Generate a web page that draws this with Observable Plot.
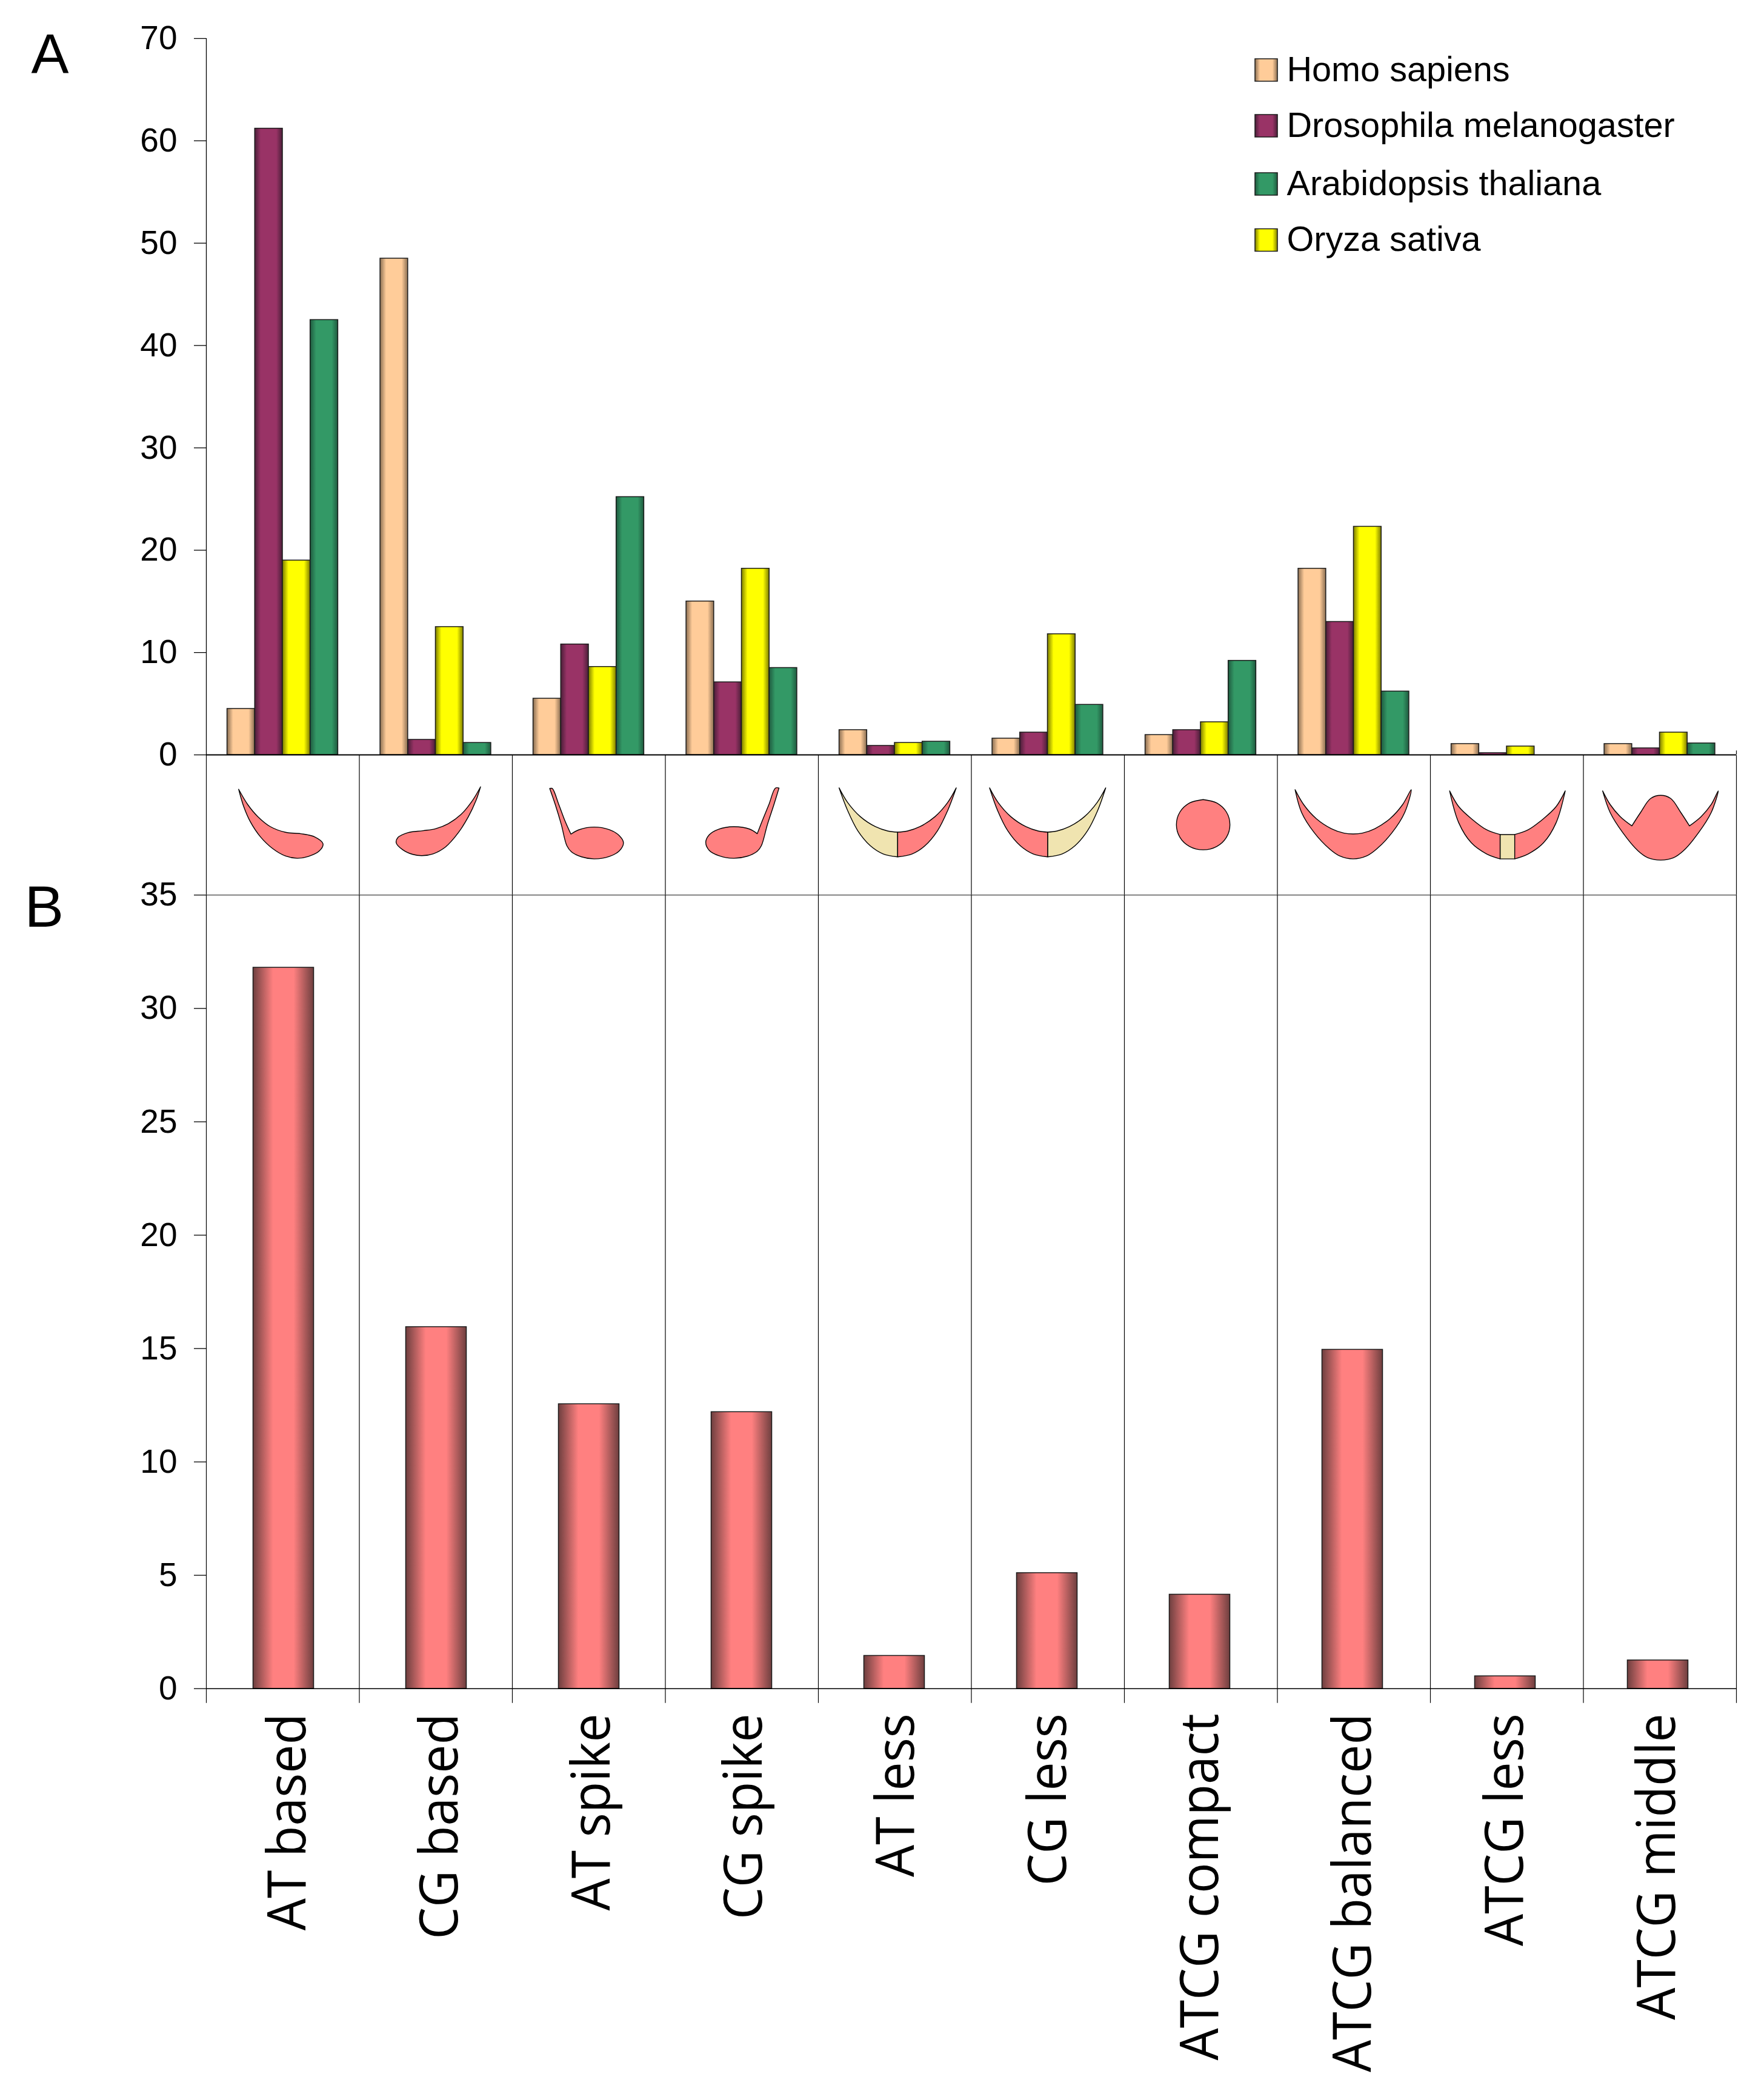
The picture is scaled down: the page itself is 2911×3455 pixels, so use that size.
<!DOCTYPE html>
<html>
<head>
<meta charset="utf-8">
<script src="https://cdn.jsdelivr.net/npm/d3@7"></script>
<script src="https://cdn.jsdelivr.net/npm/@observablehq/plot@0.6"></script>
<style>
  html, body { margin: 0; padding: 0; background: #fff; }
  #page { width: 2911px; height: 3455px; overflow: hidden; position: relative; }
  #page svg.plot-panel { display: block; max-width: none; }
</style>
</head>
<body>
<svg width="0" height="0" style="position:absolute"><defs id="grads"></defs></svg>
<div id="page"></div>
<script>
const categories = ["AT based","CG based","AT spike","CG spike","AT less","CG less","ATCG compact","ATCG balanced","ATCG less","ATCG middle"];
const species = ["Homo sapiens","Drosophila melanogaster","Oryza sativa","Arabidopsis thaliana"];
const legendOrder = ["Homo sapiens","Drosophila melanogaster","Arabidopsis thaliana","Oryza sativa"];
const homo    = [4.5, 48.5, 5.5, 15.0, 2.43, 1.6, 1.95, 18.2, 1.07, 1.07];
const dros    = [61.2, 1.48, 10.8, 7.1, 0.89, 2.19, 2.43, 13.0, 0.18, 0.65];
const oryza   = [19.0, 12.5, 8.6, 18.2, 1.18, 11.8, 3.2, 22.3, 0.83, 2.19];
const arab    = [42.5, 1.18, 25.2, 8.5, 1.30, 4.9, 9.2, 6.2, 0, 1.13];
const panelB  = [31.8, 15.95, 12.55, 12.2, 1.45, 5.1, 4.15, 14.95, 0.55, 1.25];
const ticksA  = [0,10,20,30,40,50,60,70];
const ticksB  = [0,5,10,15,20,25,30,35];

// Pictogram outlines, in units of the sketch strip
const iconRed = [
  [0,[[64,168],[82,244],[102,304],[127,354],[157,382],[187,389],[214,404],[231,439],[224,474],[202,502],[180,511],[157,500],[132,464],[107,404],[87,329],[74,254],[64,168]]],
  [1,[[240,156],[224,224],[201,294],[176,339],[151,364],[126,374],[96,384],[76,409],[73,434],[86,469],[106,492],[124,498],[146,489],[171,454],[196,384],[216,304],[231,224],[240,156]]],
  [2,[[74,164],[79,164],[92,244],[104,324],[116,391],[116,391],[132,369],[162,356],[192,369],[212,399],[220,434],[212,474],[192,502],[162,514],[137,504],[117,479],[108,449],[97,344],[85,244],[74,164]]],
  [3,[[225,162],[218,162],[205,244],[192,324],[182,389],[182,389],[167,366],[135,354],[105,367],[87,394],[80,432],[87,472],[107,499],[135,511],[162,501],[182,476],[190,449],[202,344],[215,244],[225,162]]],
  [4,[[273,161],[256,234],[231,304],[201,354],[176,376],[157,381],[157,381],[157,504],[157,504],[186,489],[211,449],[236,374],[256,274],[273,161]]],
  [5,[[36,161],[53,234],[78,304],[108,354],[133,376],[151,381],[151,381],[151,504],[151,504],[122,489],[97,449],[72,374],[52,274],[36,161]]],
  [6,[[156,219],[183,236],[202,281],[209,344],[202,407],[183,452],[156,469],[129,452],[110,407],[103,344],[110,281],[129,236],[156,219]]],
  [7,[[35,170],[52,244],[77,314],[107,364],[132,386],[150,390],[168,386],[193,364],[223,314],[248,244],[265,170],[252,284],[227,384],[197,464],[177,499],[150,514],[123,499],[103,464],[73,384],[48,284],[35,170]]],
  [8,[[38,176],[56,254],[81,314],[111,369],[138,393],[138,393],[138,514],[138,514],[111,489],[81,434],[56,334],[38,176]]],
  [8,[[267,176],[249,254],[224,314],[194,369],[167,393],[167,393],[167,514],[167,514],[194,489],[224,434],[249,334],[267,176]]],
  [9,[[38,176],[53,244],[73,304],[96,350],[96,350],[113,284],[133,214],[153,198],[173,214],[193,284],[210,350],[210,350],[233,304],[253,244],[267,176],[253,284],[228,384],[198,474],[178,509],[153,520],[128,509],[108,474],[78,384],[53,284],[38,176]]]
];
const iconCream = [
  [4,[[41,161],[58,234],[83,304],[113,354],[138,376],[157,381],[157,381],[157,504],[157,504],[128,489],[103,449],[78,374],[58,274],[41,161]]],
  [5,[[266,161],[249,234],[224,304],[194,354],[169,376],[151,381],[151,381],[151,504],[151,504],[180,489],[205,449],[230,374],[250,274],[266,161]]],
  [8,[[138,393],[138,393],[167,393],[167,393],[167,514],[167,514],[138,514],[138,514],[138,393]]]
];

const seriesValues = [homo, dros, oryza, arab];
const barColors = {
  "Homo sapiens": ["#FFCC99", "#8a6e52"],
  "Drosophila melanogaster": ["#993366", "#4a1f38"],
  "Oryza sativa": ["#FFFF00", "#7d7d00"],
  "Arabidopsis thaliana": ["#339966", "#1f5a3f"]
};
const gradId = s => "g" + species.indexOf(s);

// Gradients
const defs = d3.select("#grads");
function addGrad(id, [mid, edge], a, b) {
  const g = defs.append("linearGradient").attr("id", id).attr("x1", 0).attr("x2", 1).attr("y1", 0).attr("y2", 0);
  [[0, edge], [a, mid], [b, mid], [1, edge]].forEach(([o, c]) => g.append("stop").attr("offset", o).attr("stop-color", c));
}
species.forEach(s => addGrad(gradId(s), barColors[s], 0.22, 0.78));
addGrad("gB", ["#FF8080", "#6e3f3f"], 0.33, 0.67);

const width = 2911, marginLeft = 340, marginRight = 46;
const font = "Liberation Sans";
const base = {width, marginLeft, marginRight, x: {domain: [0, 10], axis: null}};
const panelStyle = {fontFamily: font, background: "transparent", overflow: "visible", color: "#000"};
const barShare = 0.181, groupOffset = 0.137;

const rowsA = categories.flatMap((c, i) => species.map((s, j) => ({cat: i, s: j, species: s, value: seriesValues[j][i]}))).filter(d => d.value > 0);
const rowsB = categories.map((c, i) => ({cat: i, value: panelB[i]}));
const toRows = parts => parts.flatMap(([cat, pts], id) => pts.map(p => ({id, x: cat + p[0] / 303, y: p[1]})));
const centreB = d => 0.505 + d.cat * 0.998;

const plotA = Plot.plot({
  ...base, height: 1246, marginTop: 63, marginBottom: 1, className: "plot-panel", style: panelStyle,
  y: {domain: [0, 70], axis: null},
  color: {type: "ordinal", domain: species, range: species.map(s => `url(#${gradId(s)})`)},
  marks: [
    Plot.rect(rowsA, {
      x1: d => d.cat + groupOffset + d.s * barShare,
      x2: d => d.cat + groupOffset + (d.s + 1) * barShare,
      y1: () => 0, y2: "value", fill: "species", stroke: "#1a1a1a", strokeWidth: 1.5
    }),
    Plot.ruleX([0], {stroke: "#000", strokeWidth: 1.3}),
    Plot.ruleX([10], {y1: 0, y2: 0.4, stroke: "#000", strokeWidth: 1.2}),
    Plot.ruleY([0], {stroke: "#000", strokeWidth: 2}),
    Plot.axisY({ticks: ticksA, tickSize: 20, tickPadding: 28, fontSize: 55, label: null, strokeWidth: 1.3}),
    ...legendOrder.flatMap((s, i) => {
      const dy = [52, 144, 240, 332.5][i];
      return [
        Plot.dot([s], {frameAnchor: "top-left", dx: 1749, dy, symbol: "square", r: 20.9, fill: d => d, stroke: "#1a1a1a", strokeWidth: 1.5}),
        Plot.text([s], {frameAnchor: "top-left", lineAnchor: "middle", dx: 1783, dy, text: d => d, fontSize: 57.6, textAnchor: "start", fill: "#000"})
      ];
    }),
    Plot.text(["A"], {frameAnchor: "top-left", dx: -289, dy: -9, text: d => d, fontSize: 93, textAnchor: "start", fill: "#000"})
  ]
});

const plotIcons = Plot.plot({
  ...base, height: 230, marginTop: 0, marginBottom: 0, className: "plot-panel", style: panelStyle,
  y: {domain: [0, 693], range: [0, 230], axis: null},
  marks: [
    Plot.ruleX(d3.range(11), {stroke: "#000", strokeWidth: 1.2}),
    Plot.line(toRows(iconCream), {x: "x", y: "y", z: "id", curve: "catmull-rom", fill: "#F0E4B0", stroke: "#000", strokeWidth: 1.4}),
    Plot.line(toRows(iconRed), {x: "x", y: "y", z: "id", curve: "catmull-rom", fill: "#FF8080", stroke: "#000", strokeWidth: 1.4})
  ]
});

const plotB = Plot.plot({
  ...base, height: 2019, marginTop: 40.3, marginBottom: 669.3, className: "plot-panel",
  style: {...panelStyle, marginTop: "-40px"},
  y: {domain: [0, 35], axis: null},
  marks: [
    Plot.ruleY([35], {stroke: "#808080", strokeWidth: 2}),
    Plot.ruleX(d3.range(11), {y1: -0.64, y2: 35, stroke: "#000", strokeWidth: 1.2}),
    Plot.rect(rowsB, {x1: d => centreB(d) - 0.198, x2: d => centreB(d) + 0.198, y1: () => 0, y2: "value", fill: "url(#gB)", stroke: "#1a1a1a", strokeWidth: 1.5}),
    Plot.ruleY([0], {stroke: "#000", strokeWidth: 1.5}),
    Plot.axisY({ticks: ticksB, tickSize: 20, tickPadding: 28, fontSize: 55, label: null, strokeWidth: 1.3}),
    Plot.text(categories, {
      x: (d, i) => 0.535 + i * 0.9945, frameAnchor: "bottom", lineAnchor: "middle", dy: 41, text: d => d, rotate: -90, textAnchor: "end",
      fontFamily: "Open Sans", fontSize: 88, fill: "#000", className: "cat-label"
    }),
    Plot.text(["B"], {frameAnchor: "top-left", dx: -300, dy: -17, text: d => d, fontSize: 97, textAnchor: "start", fill: "#000"})
  ]
});

const page = document.getElementById("page");
page.append(plotA, plotIcons, plotB);

// The category labels are slightly condensed in the reference
plotB.querySelectorAll(".cat-label text").forEach(t => {
  t.setAttribute("lengthAdjust", "spacingAndGlyphs");
  t.setAttribute("textLength", t.getComputedTextLength() * 0.955);
});
</script>
</body>
</html>
